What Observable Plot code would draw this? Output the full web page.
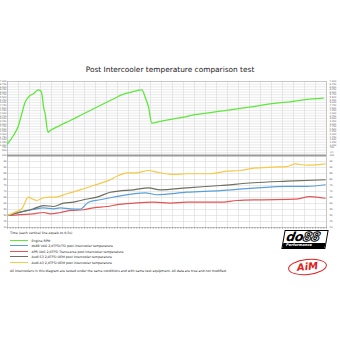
<!DOCTYPE html>
<html><head><meta charset="utf-8">
<script src="https://cdn.jsdelivr.net/npm/d3@7"></script>
<script src="https://cdn.jsdelivr.net/npm/@observablehq/plot@0.6"></script>
<style>
body{margin:0;background:#fff;width:340px;height:340px;overflow:hidden;font-family:"DejaVu Sans",Verdana,sans-serif;position:relative}
.abs{position:absolute}
.leg{position:absolute;left:10px;font-size:3.2px;color:#222;white-space:nowrap;line-height:4px}
.sw{display:inline-block;width:18px;height:1.3px;vertical-align:middle;margin-right:3.5px;position:relative;top:-0.3px}
</style></head><body>
<div class="abs" style="top:65px;left:0;width:340px;text-align:center;font-size:7.4px;color:#222">Post Intercooler temperature comparison test</div>
<div id="top" class="abs" style="top:78px;left:0"></div>
<div id="bot" class="abs" style="top:148px;left:0"></div>
<div id="legend"></div>
<div class="abs" style="left:283px;top:230px;width:44px;height:19px;border:1.2px solid #000;transform:skewX(-10deg);box-sizing:border-box;background:#fff">
  <div style="font:italic 900 12.5px 'DejaVu Sans';line-height:11px;letter-spacing:-0.4px;padding-left:2px">do<span style="color:#fff;-webkit-text-stroke:1px #000">88</span></div>
  <div style="font:bold 3.6px 'DejaVu Sans';background:#000;color:#fff;padding-left:3px;line-height:5px;margin-top:1px">Performance</div>
</div>
<div class="abs" style="left:288px;top:259px;width:39px;height:16px;border:1.6px solid #e02020;border-radius:50%;box-sizing:border-box;transform:rotate(-6deg);text-align:center;font:italic 900 10px 'DejaVu Sans';color:#e02020;line-height:13px">AiM</div>
<script>
// ---- data ----
const rpmTime = [0,0.27,0.5,0.65,0.80,1.03,1.18,1.34,1.41,1.49,1.56,1.64,1.71,1.84,1.94,2.39,2.85,3.30,3.76,4.21,4.67,4.97,5.12,5.43,5.71,6.11,6.26,6.41,6.56,6.94,7.55,8.0,8.45,9.06,9.67,10.43,11.18,11.94,12.7,13.45,14.36];
const rpmValues = [1110,1890,2840,3970,5040,5680,5840,6150,6210,6150,5860,4570,3970,2200,2360,2840,3310,3780,4260,4730,5200,5510,5680,5890,6050,6210,5510,4570,3060,3220,3470,3620,3850,4000,4190,4420,4630,4890,5040,5270,5420];

const a3Time = [0,0.35,0.65,0.95,1.11,1.34,1.64,1.94,2.17,2.7,3.3,3.91,4.52,5.05,5.43,5.88,6.41,6.79,7.55,8.15,9.21,9.97,10.58,11.18,12.09,12.7,13.08,13.61,14.44];
const a3Values = [50,52.8,55.6,65.3,63.9,62.5,64.8,65.3,65.3,68.1,71.4,75,78.6,83.3,85.6,85.6,87.5,86.1,84.2,84.8,84.8,86.9,87.5,89.4,90.3,90.8,93.1,91.9,93.1];

const s3Time = [0,0.58,1.18,1.64,2.09,2.55,3.0,3.45,4.06,4.67,5.05,5.73,6.41,6.94,8.15,9.67,11.18,12.7,14.44];
const s3Values = [50,52.8,55.6,58.3,57.5,60.3,61.1,63.1,65.3,69.4,70.3,71.4,73.1,71.4,73.1,75,77.3,78.6,79.8];

const do88Time = [0,0.58,1.18,1.64,2.09,2.4,2.85,3.3,3.68,4.21,4.67,5.05,5.73,6.26,6.79,8.15,9.67,11.18,12.7,13.61,14.44];
const do88Values = [50,52.8,55,56.4,55.6,56.4,55.6,55.3,61.1,63.1,64.8,66.1,68.1,68.9,67.3,69.4,70.8,72.8,74.2,74.2,75.6];

const aprTime = [0,0.58,1.18,1.64,1.94,2.4,2.85,3.45,3.91,4.52,5.05,5.88,6.64,7.4,8.15,9.67,10.43,11.49,13.08,13.76,14.44];
const aprValues = [50,50.8,51.4,52.5,51.4,52.5,54.2,54.8,56.4,57.5,59.2,60.6,61.1,60.3,61.1,61.1,62.5,63.1,63.6,65.8,64.4];

const seriesNames = ["Engine RPM","do88 VAG 2,0TFSI/TSI post intercooler temperature","APR VAG 2,0TFSI Transverse post intercooler temperature","Audi S3 2,0TFSI OEM post intercooler temperature","Audi A3 2,0TFSI OEM post intercooler temperature"];
const seriesColors = ["#5ee83c","#5b9fd8","#e25555","#6f6e60","#f7c948"];
const rpmGrid = d3.range(0, 7001, 250);
const rpmLeftTicks = d3.range(500, 7001, 250);
const rpmRightTicks = d3.range(750, 7001, 250);
const tempTicks = d3.range(40, 101, 5);
const timeGrid = d3.range(0, 14.51, 0.5);
const timeRuler = d3.range(0, 14.51, 0.125);
const timeLabel = "Time (each vertical line equals to 0,5s)";
const note = "All intercoolers in this diagram are tested under the same conditions and with same test equipment. All data are true and not modified.";

const zip = (ts, vs, s) => ts.map((t, i) => ({t, v: vs[i], s}));
const rpmData = zip(rpmTime, rpmValues, seriesNames[0]);
const tempData = [
  ...zip(aprTime, aprValues, seriesNames[2]),
  ...zip(do88Time, do88Values, seriesNames[1]),
  ...zip(s3Time, s3Values, seriesNames[3]),
  ...zip(a3Time, a3Values, seriesNames[4])
];
const color = {domain: seriesNames, range: seriesColors};
const gridStyle = {stroke: "#d2d2d2", strokeOpacity: 1, strokeWidth: 0.5};
const tickStyle = {tickSize: 0, tickPadding: 1, fontSize: 2.4, fill: "#555", label: null};

const topPlot = Plot.plot({
  width: 340, height: 78, marginTop: 3, marginBottom: 1, marginLeft: 7, marginRight: 14,
  style: {background: "transparent", fontFamily: "DejaVu Sans"},
  x: {domain: [0, 14.5], axis: null},
  y: {domain: [0, 7000], axis: null},
  color,
  marks: [
    Plot.gridY(rpmGrid, gridStyle),
    Plot.gridX(timeGrid, gridStyle),
    Plot.axisY(rpmLeftTicks, {anchor: "left", ...tickStyle}),
    Plot.axisY(rpmRightTicks, {anchor: "right", ...tickStyle, tickPadding: 3}),
    Plot.frame({stroke: "#b0b0b0", strokeWidth: 0.6}),
    Plot.line(rpmData, {x: "t", y: "v", stroke: "s", strokeWidth: 1.3, curve: "monotone-x"})
  ]
});
document.getElementById("top").append(topPlot);

const botPlot = Plot.plot({
  width: 340, height: 84, marginTop: 7, marginBottom: 5, marginLeft: 7, marginRight: 14,
  style: {background: "transparent", fontFamily: "DejaVu Sans"},
  x: {domain: [0, 14.5], axis: null},
  y: {domain: [40, 100], axis: null},
  color,
  marks: [
    Plot.gridY(tempTicks, gridStyle),
    Plot.gridX(timeGrid, gridStyle),
    Plot.axisY(tempTicks, {anchor: "left", ...tickStyle}),
    Plot.axisY(tempTicks, {anchor: "right", ...tickStyle, tickPadding: 3}),
    Plot.axisX(timeRuler, {anchor: "bottom", tickSize: 1.6, tickFormat: () => "", stroke: "#999", label: null}),
    Plot.frame({stroke: "#b0b0b0", strokeWidth: 0.6}),
    Plot.ruleY([100], {stroke: "#9a9a9a", strokeWidth: 1.8}),
    Plot.text(["(C)"], {frameAnchor: "top-right", text: d => d, dx: 7, dy: -4.5, fontSize: 2.4, fill: "#555"}),
    Plot.line(tempData, {x: "t", y: "v", z: "s", stroke: "s", strokeWidth: 1.2, curve: "monotone-x"})
  ]
});
document.getElementById("bot").append(botPlot);

const leg = document.getElementById("legend");
const addLine = (top, html) => {
  const d = document.createElement("div");
  d.className = "leg"; d.style.top = top + "px"; d.innerHTML = html; leg.append(d);
};
addLine(231, timeLabel);
const legTops = [239, 244, 249.5, 255, 260.5];
seriesNames.forEach((n, i) => addLine(legTops[i], `<span class="sw" style="background:${seriesColors[i]}"></span>${n}`));
addLine(268.5, note);
</script>
</body></html>
